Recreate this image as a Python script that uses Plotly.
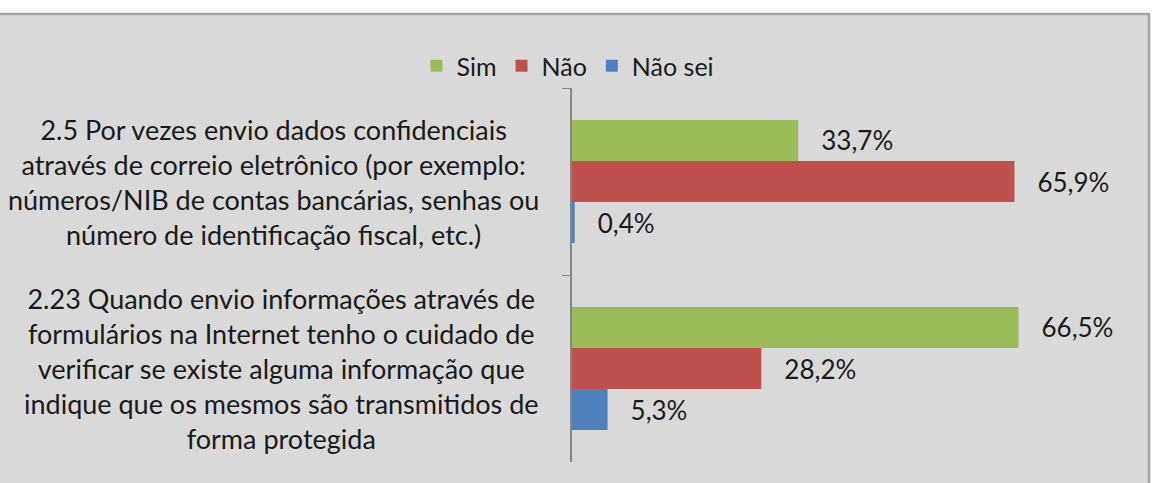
import plotly.graph_objects as go

categories = [
    "2.5 Por vezes envio dados confidenciais<br>através de correio eletrônico (por exemplo:<br>números/NIB de contas bancárias, senhas ou<br>número de identificação fiscal, etc.)",
    "2.23 Quando envio informações através de<br>formulários na Internet tenho o cuidado de<br>verificar se existe alguma informação que<br>indique que os mesmos são transmitidos de<br>forma protegida",
]
series_names = ["Sim", "Não", "Não sei"]
sim = [33.7, 66.5]
nao = [65.9, 28.2]
nao_sei = [0.4, 5.3]
colors = ["#9BBB59", "#C0504D", "#4F81BD"]

W, H = 1161, 483
L, R, T, B = 572, 119, 88, 21
pw, ph = W - L - R, H - T - B

def px_x(p):
    return (p - L) / pw

def px_y(p):
    return (H - B - p) / ph

FONT = "Lato"
TXT = "#1a1a1a"
fig = go.Figure()
for name, vals, col in zip(series_names, [sim, nao, nao_sei], colors):
    fig.add_trace(go.Bar(
        y=categories, x=vals, name=name, orientation="h",
        marker=dict(color=col, line=dict(width=0)),
        texttemplate="\u00a0\u00a0\u00a0%{x:.1f}%", textposition="outside",
        textfont=dict(family=FONT, size=26, color=TXT),
        cliponaxis=False,
    ))

# chart area background/border
fig.add_shape(type="rect", xref="paper", yref="paper",
              x0=px_x(-5), x1=px_x(1149), y0=px_y(495), y1=px_y(14),
              fillcolor="#D9D9D9", line=dict(color="#A3A3A3", width=2.5), layer="below")

for c in categories:
    fig.add_annotation(x=px_x(541), y=c, xref="paper", yref="y", text=c,
                       showarrow=False, xanchor="right", yanchor="middle", align="center",
                       font=dict(family=FONT, size=27, color=TXT))

fig.update_layout(
    width=W, height=H, margin=dict(l=L, r=R, t=T, b=B),
    paper_bgcolor="white", plot_bgcolor="rgba(0,0,0,0)",
    barmode="group", bargap=0.342, bargroupgap=0,
    separators=",.",
    font=dict(family=FONT, size=25, color=TXT),
    showlegend=True,
    legend=dict(orientation="h", x=px_x(568), xanchor="center", y=px_y(66), yanchor="middle",
                font=dict(family=FONT, size=25, color=TXT), bgcolor="rgba(0,0,0,0)",
                itemwidth=30, traceorder="normal"),
    xaxis=dict(range=[0, 70], visible=False, fixedrange=True),
    yaxis=dict(autorange="reversed", showticklabels=False, showline=True, linecolor="#868686",
               linewidth=1.5, ticks="outside", ticklen=8, tickcolor="#868686", tickson="boundaries",
               showgrid=False, zeroline=False),
)
fig.write_html("out.html")
